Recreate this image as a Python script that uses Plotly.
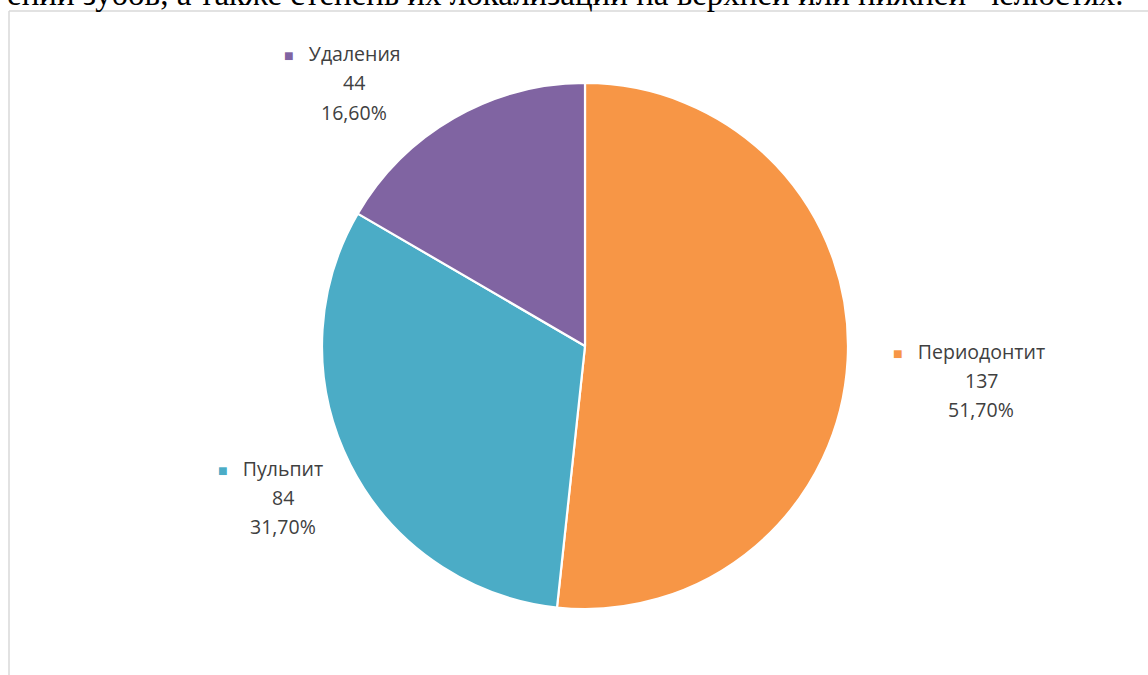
import plotly.graph_objects as go

# Distribution of diagnoses
categories = ["Периодонтит", "Пульпит", "Удаления"]
counts = [137, 84, 44]
shares = ["51,70%", "31,70%", "16,60%"]
colors = ["#F79646", "#4BACC6", "#8064A2"]

# Tail of the paragraph that sits above the chart frame
caption = "ений зубов, а также степень их локализации на верхней или нижней  челюстях."

W, H = 1148, 675
cx, cy, R = 585, 346, 263          # pie centre and radius in pixels
# centre of each data label block (pixels)
label_pos = [(981, 380), (283, 497), (354, 83)]
line_gap = 29                      # pixel spacing between label lines
text_color = "#404040"


def px_x(x):
    return x / W


def px_y(y):
    return 1 - y / H


fig = go.Figure()
fig.add_trace(go.Pie(
    labels=categories,
    values=counts,
    marker=dict(colors=colors, line=dict(color="white", width=2.2)),
    sort=False,
    direction="clockwise",
    rotation=0,
    textinfo="none",
    hoverinfo="label+value+percent",
    showlegend=False,
    domain=dict(x=[px_x(cx - R), px_x(cx + R)], y=[px_y(cy + R), px_y(cy - R)]),
))

annotations = []
for name, val, pct, col, (lx, ly) in zip(categories, counts, shares, colors, label_pos):
    first = (f"<span style='color:{col};font-size:16px'>■</span>   {name}   "
             f"<span style='color:rgba(0,0,0,0);font-size:16px'>■</span>")
    for i, txt in enumerate([first, str(val), pct]):
        annotations.append(dict(
            x=px_x(lx), y=px_y(ly + (i - 1) * line_gap),
            xref="paper", yref="paper", text=txt, showarrow=False,
            xanchor="center", yanchor="middle",
            font=dict(family="Open Sans", size=19.5, color=text_color),
        ))

annotations.append(dict(
    x=px_x(1126), y=px_y(14), xref="paper", yref="paper", text=caption,
    showarrow=False, xanchor="right", yanchor="bottom",
    font=dict(family="Liberation Serif", size=33, color="#000000"),
))

# Chart frame (top and left edges visible)
fig.add_shape(type="line", xref="paper", yref="paper",
              x0=px_x(9), x1=1.01, y0=px_y(11), y1=px_y(11),
              line=dict(color="#D9D9D9", width=1.5))
fig.add_shape(type="line", xref="paper", yref="paper",
              x0=px_x(9), x1=px_x(9), y0=px_y(11), y1=-0.01,
              line=dict(color="#D9D9D9", width=1.5))

fig.update_layout(
    width=W, height=H,
    margin=dict(l=0, r=0, t=0, b=0),
    paper_bgcolor="white",
    plot_bgcolor="white",
    annotations=annotations,
)

fig.write_html("out.html")
